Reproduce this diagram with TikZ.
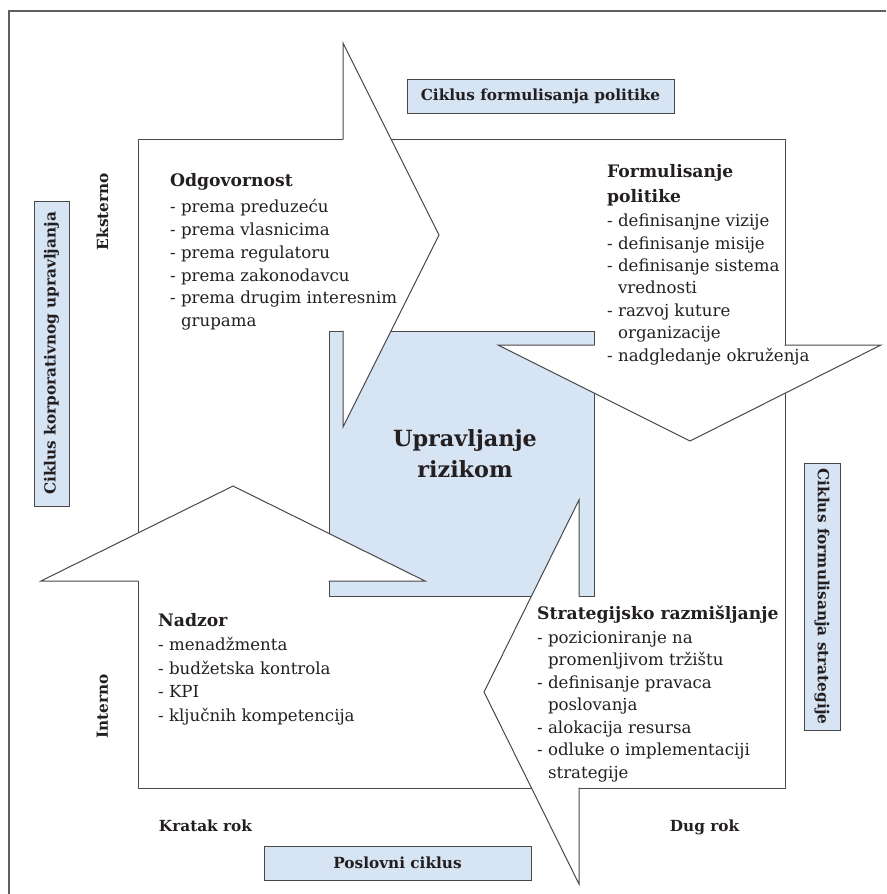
\documentclass[tikz,border=0pt]{standalone}
\usepackage{fontspec}
\setmainfont{DejaVu Serif}
\definecolor{riskblue}{RGB}{214,228,244}
\definecolor{edge}{RGB}{72,72,72}
\definecolor{ink}{RGB}{35,31,32}
\definecolor{framegray}{RGB}{95,95,95}
\newcommand\txtbody[1]{\fontsize{16.6}{#1}\selectfont}
\newcommand\txttag{\fontsize{15.3}{18}\selectfont\bfseries}
\newcommand\txtcore{\fontsize{22.3}{31}\selectfont\bfseries}
\newcommand\ttl[1]{{\fontsize{17.2}{20}\selectfont\bfseries #1}}
\newcommand\cont{\hphantom{-\ }}
\begin{document}
\begin{tikzpicture}[x=1pt,y=-1pt,
  outline/.style={draw=edge,line width=1pt,line join=miter,line cap=rect},
  tag/.style={draw=edge,fill=riskblue,line width=1pt,font=\txttag,text=ink,inner sep=0pt},
  axislabel/.style={font=\txttag,text=ink,inner sep=0pt},
  blk/.style={text=ink,align=left,anchor=north west,inner sep=0pt},
]
\useasboundingbox (0,0) rectangle (886,894);

% outer frame (open to the right and bottom)
\draw[framegray,line width=1.2pt] (9,894) -- (9,11) -- (886,11);

% main square and the risk-management core
\draw[outline,fill=white] (138,139) rectangle (785,788);
\draw[outline,fill=riskblue] (329,331) rectangle (594,596);

% arrow heads: white fill first
\fill[white] (343,43) -- (439,235) -- (343,427) -- cycle;
\fill[white] (881,345) -- (690,441) -- (498,345) -- cycle;
\fill[white] (41,581) -- (233,486) -- (425,581) -- cycle;
\fill[white] (579,884) -- (484,692) -- (579,500) -- cycle;

% arrow head outlines
\draw[outline] (343,139) -- (343,43) -- (439,235) -- (343,427) -- (343,331);
\draw[outline] (785,345) -- (881,345) -- (690,441) -- (498,345) -- (594,345);
\draw[outline] (138,581) -- (41,581) -- (233,486) -- (425,581) -- (329,581);
\draw[outline] (579,788) -- (579,884) -- (484,692) -- (579,500) -- (579,596);

% core label
\node[font=\txtcore,text=ink,align=center,inner sep=0pt] (core) at (465,454) {Upravljanje\\rizikom};

% quadrant texts
\node[blk,font=\txtbody{22.8}] (odg) at (170,173.5) {\rule{0pt}{13pt}\ttl{Odgovornost}\\[3.2pt]
- prema preduzeću\\
- prema vlasnicima\\
- prema regulatoru\\
- prema zakonodavcu\\
- prema drugim interesnim\\
\cont grupama};

\node[blk,font=\txtbody{22.4}] (pol) at (607,164) {\rule{0pt}{13pt}\ttl{Formulisanje}\\[2.6pt]
\ttl{politike}\\[2.1pt]
- definisanjne vizije\\
- definisanje misije\\
- definisanje sistema\\
\cont vrednosti\\
- razvoj kuture\\
\cont organizacije\\
- nadgledanje okruženja};

\node[blk,font=\txtbody{23.8}] (nad) at (158,613.7) {\rule{0pt}{13pt}\ttl{Nadzor}\\[-0.5pt]
- menadžmenta\\
- budžetska kontrola\\
- KPI\\
- ključnih kompetencija};

\node[blk,font=\txtbody{22.5}] (str) at (537,606) {\rule{0pt}{13pt}\ttl{Strategijsko razmišljanje}\\[0.8pt]
- pozicioniranje na\\
\cont promenljivom tržištu\\
- definisanje pravaca\\
\cont poslovanja\\
- alokacija resursa\\
- odluke o implementaciji\\
\cont strategije};

% cycle tags
\node[tag,minimum width=267pt,minimum height=34pt] (tpol) at (540.5,96) {Ciklus formulisanja politike};
\node[tag,rotate=90,minimum width=305pt,minimum height=35pt] (tkor) at (51.5,353.5) {Ciklus korporativnog upravljanja};
\node[tag,rotate=-90,minimum width=267pt,minimum height=36pt] (tstr) at (822,596.5) {Ciklus formulisanja strategije};
\node[tag,minimum width=267pt,minimum height=34pt] (tpos) at (397.5,863) {Poslovni ciklus};

% axis labels
\node[axislabel,rotate=90] (eks) at (102.5,211.5) {Eksterno};
\node[axislabel,rotate=90] (int) at (102.5,706.5) {Interno};
\node[axislabel,anchor=base] (krt) at (205.5,831) {Kratak rok};
\node[axislabel,anchor=base] (dug) at (704.5,831) {Dug rok};
\end{tikzpicture}
\end{document}
